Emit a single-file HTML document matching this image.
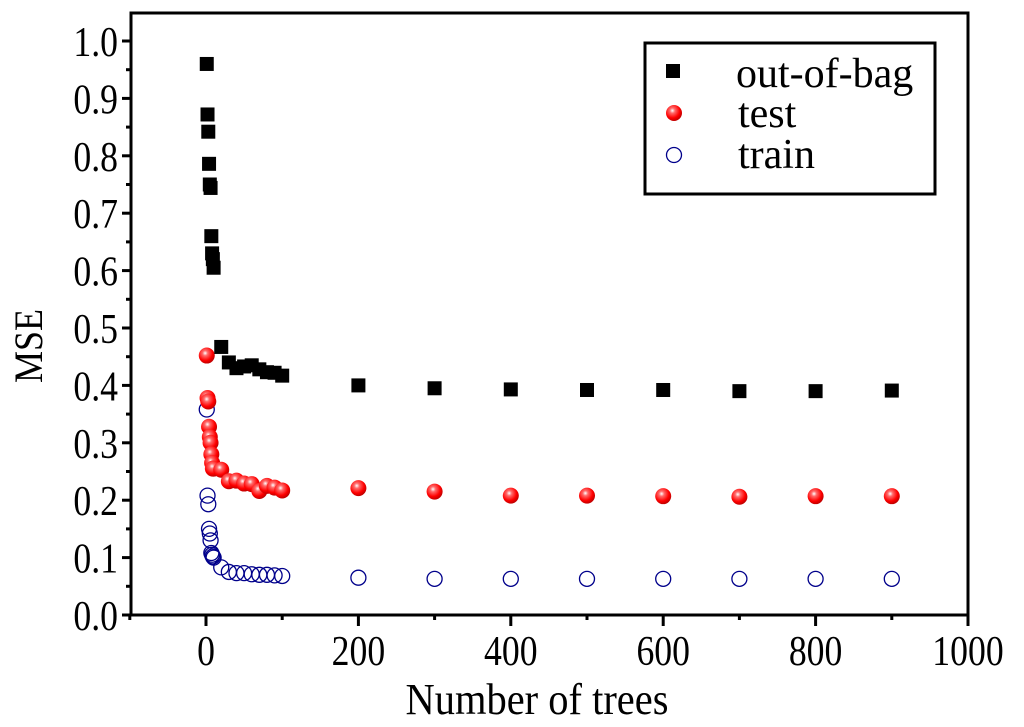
<!DOCTYPE html>
<html><head><meta charset="utf-8"><style>
html,body{margin:0;padding:0;background:#fff;}
svg{display:block;font-family:"Liberation Serif",serif;}
</style></head><body>
<svg id="chart" width="1024" height="727" viewBox="0 0 1024 727" xmlns="http://www.w3.org/2000/svg">
<defs>
<radialGradient id="ball" cx="0.4" cy="0.35" r="0.65">
<stop offset="0" stop-color="#fff"/><stop offset="0.25" stop-color="#ff6a6a"/><stop offset="0.7" stop-color="#ff0000"/><stop offset="1" stop-color="#c00000"/>
</radialGradient>
</defs>
<g id="marks"></g>
<g id="axes"></g>
<text font-size="40" text-anchor="middle" transform="translate(42 346) rotate(-90) scale(0.9 1)">MSE</text>
<text font-size="44" text-anchor="middle" transform="translate(537 714) scale(0.92 1)">Number of trees</text>
<g>
<rect x="645" y="43" width="290" height="151" fill="#fff" stroke="#000" stroke-width="3"/>
<rect x="666" y="64" width="14" height="14" fill="#000"/>
<text font-size="42" transform="translate(736 87) scale(1 1)">out-of-bag</text>
<circle cx="674" cy="113" r="8" fill="url(#ball)"/>
<text font-size="42" transform="translate(738 127) scale(1 1)">test</text>
<circle cx="674" cy="155" r="7.5" fill="none" stroke="#00008b" stroke-width="1.3"/>
<text font-size="42" transform="translate(738 168) scale(1 1)">train</text>
</g>
</svg>
<script>
const xs = [1,2,3,4,5,6,7,8,9,10,20,30,40,50,60,70,80,90,100,200,300,400,500,600,700,800,900];
const oob = [0.96,0.872,0.842,0.786,0.75,0.744,0.66,0.63,0.62,0.605,0.467,0.44,0.43,0.433,0.435,0.428,0.423,0.422,0.417,0.40,0.395,0.393,0.392,0.392,0.39,0.39,0.391];
const test = [0.452,0.378,0.372,0.328,0.31,0.3,0.28,0.265,0.255,0.255,0.253,0.233,0.234,0.229,0.228,0.216,0.225,0.222,0.217,0.221,0.215,0.208,0.208,0.207,0.206,0.207,0.207];
const train = [0.358,0.208,0.193,0.15,0.142,0.13,0.108,0.105,0.102,0.1,0.083,0.075,0.073,0.073,0.071,0.07,0.07,0.069,0.068,0.065,0.063,0.063,0.063,0.063,0.063,0.063,0.063];
const xTicks = [0,200,400,600,800,1000];
const yTicks = [0.0,0.1,0.2,0.3,0.4,0.5,0.6,0.7,0.8,0.9,1.0];

const NS="http://www.w3.org/2000/svg";
const L=131,R=968,T=13,B=615;
const X=v=>206+(v-0)*(968-206)/1000;
const Y=v=>615-v*574;
function mk(tag,attrs,parent){const e=document.createElementNS(NS,tag);for(const k in attrs)e.setAttribute(k,attrs[k]);parent.appendChild(e);return e;}
const marks=document.getElementById('marks'), axes=document.getElementById('axes');
xs.forEach((x,i)=>{
  const t=mk('circle',{cx:X(x),cy:Y(train[i]),r:7.5,fill:'none',stroke:'#00008b','stroke-width':1.3},marks);
  
  
});
xs.forEach((x,i)=>{
  const t=mk('circle',{cx:X(x),cy:Y(test[i]),r:8,fill:'url(#ball)'},marks);
  
  
});
xs.forEach((x,i)=>{
  const t=mk('rect',{x:X(x)-7,y:Y(oob[i])-7,width:14,height:14,fill:'#000'},marks);
  
  
});
const frame=mk('rect',{x:L,y:T,width:R-L,height:B-T,fill:'none',stroke:'#000','stroke-width':3},axes);


for(let k=0;k<=20;k++){const v=k*0.05;const major=k%2===0;
  mk('line',{x1:L,x2:L-(major?9:5),y1:Y(v),y2:Y(v),stroke:'#000','stroke-width':3},axes);}
yTicks.forEach(v=>{
  const t=mk('text',{x:0,y:0,'font-size':42,'text-anchor':'end',transform:`translate(${L-13} ${Y(v)+15}) scale(0.85 1)`},axes);
  t.textContent=v.toFixed(1);
  
  
});
for(let v=-100;v<=1000;v+=100){const major=v%200===0;
  mk('line',{x1:X(v),x2:X(v),y1:B,y2:B+(major?11:5),stroke:'#000','stroke-width':3},axes);}
xTicks.forEach(v=>{
  const t=mk('text',{x:0,y:0,'font-size':42,'text-anchor':'middle',transform:`translate(${X(v)} ${B+50}) scale(0.85 1)`},axes);
  t.textContent=String(v);
  
  
});
</script>
</body></html>
